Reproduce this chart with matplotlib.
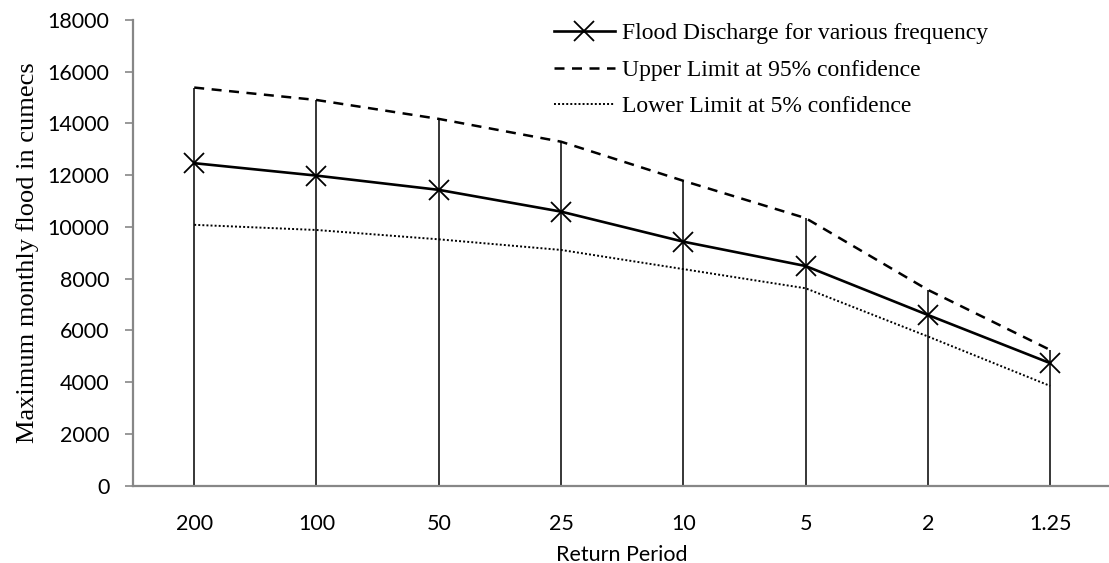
import numpy as np
import matplotlib
matplotlib.use("Agg")
import matplotlib.pyplot as plt

# data
return_period = ["200", "100", "50", "25", "10", "5", "2", "1.25"]
flood = [12460, 11980, 11430, 10590, 9430, 8490, 6600, 4740]
upper = [15380, 14900, 14170, 13290, 11780, 10340, 7570, 5250]
lower = [10080, 9880, 9520, 9110, 8370, 7630, 5770, 3860]

serif = ["Liberation Serif", "DejaVu Serif"]
sans = ["Lato", "DejaVu Sans"]

fig = plt.figure(figsize=(11.09, 5.63), dpi=100)
ax = fig.add_axes([0.12, 0.137, 0.882, 0.828])

x = np.arange(len(return_period))

# drop lines from the highest series down to the axis
tops = np.maximum(np.maximum(flood, upper), lower)
ax.vlines(x, 0, tops, color="black", linewidth=1.1, zorder=1)

ax.plot(x, flood, color="black", linewidth=1.9, marker="x", markersize=14,
        markeredgewidth=1.3, label="Flood Discharge for various frequency", zorder=3)
ax.plot(x, upper, color="black", linewidth=1.8, linestyle=(0, (4, 3)),
        label="Upper Limit at 95% confidence", zorder=2)
ax.plot(x, lower, color="black", linewidth=1.4, linestyle=(0, (1, 1.1)),
        label="Lower Limit at 5% confidence", zorder=2)

ax.set_xlim(-0.5, len(return_period) - 0.5)
ax.set_ylim(0, 18000)
ax.set_yticks(np.arange(0, 18001, 2000))
ax.set_xticks(x)
ax.set_xticklabels(return_period)

for s in ["top", "right"]:
    ax.spines[s].set_visible(False)
for s in ["left", "bottom"]:
    ax.spines[s].set_color("#878787")
    ax.spines[s].set_linewidth(1.6)

ax.tick_params(axis="y", length=6, width=1.2, color="#878787", pad=11)
ax.tick_params(axis="x", length=0, pad=20)
for lab in ax.get_xticklabels() + ax.get_yticklabels():
    lab.set_family(sans)
    lab.set_fontsize(15.5)

ax.set_xlabel("Return Period", family=sans, fontsize=15.5, labelpad=8)
ax.set_ylabel("Maximum monthly flood in cumecs", family=serif, fontsize=19, labelpad=6)

leg = ax.legend(loc="upper left", bbox_to_anchor=(0.43, 0.993), frameon=False,
                prop={"family": serif, "size": 17}, handlelength=2.6,
                handletextpad=0.3, labelspacing=0.63, borderaxespad=0, borderpad=0)

fig.savefig("out.png", dpi=100)
